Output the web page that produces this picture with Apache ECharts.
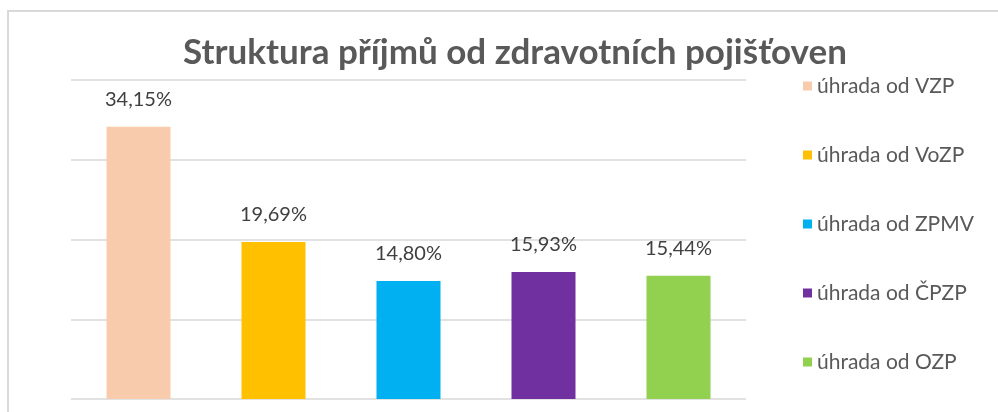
<!DOCTYPE html>
<html lang="cs">
<head>
<meta charset="UTF-8">
<title>Struktura příjmů</title>
<script src="https://cdn.jsdelivr.net/npm/echarts@6/dist/echarts.min.js"></script>
<style>
  html, body { margin: 0; padding: 0; background: #fff; }
  #main { width: 998px; height: 412px; }
</style>
</head>
<body>
<div id="main"></div>
<script>
// data
var names = ['úhrada od VZP', 'úhrada od VoZP', 'úhrada od ZPMV', 'úhrada od ČPZP', 'úhrada od OZP'];
var values = [34.15, 19.69, 14.80, 15.93, 15.44];
var colors = ['#F8CBAD', '#FFC000', '#00B0F0', '#7030A0', '#92D050'];

var chart = echarts.init(document.getElementById('main'));

var series = names.map(function (n, i) {
  return {
    name: n,
    type: 'bar',
    barWidth: 64,
    barGap: '-100%',
    itemStyle: { color: colors[i] },
    label: {
      show: true,
      position: 'top',
      distance: 17,
      fontFamily: 'Lato',
      fontSize: 20,
      color: '#404040',
      formatter: function (p) { return p.value.toFixed(2).replace('.', ',') + '%'; }
    },
    data: values.map(function (v, j) { return j === i ? v : '-'; })
  };
});

chart.setOption({
  animation: false,
  textStyle: { fontFamily: 'Lato' },
  title: {
    text: 'Struktura příjmů od zdravotních pojišťoven',
    left: 510,
    top: 30,
    textAlign: 'center',
    textStyle: { fontFamily: 'Lato', fontWeight: 'bold', fontSize: 35, color: '#595959' }
  },
  legend: {
    orient: 'vertical',
    left: 798,
    top: 70,
    itemWidth: 9,
    itemHeight: 9,
    itemGap: 47,
    icon: 'rect',
    textStyle: { fontFamily: 'Lato', fontSize: 21, lineHeight: 22, color: '#595959' },
    data: names
  },
  graphic: [{
    type: 'rect',
    shape: { x: 8, y: 11, width: 1000, height: 420 },
    style: { fill: 'none', stroke: '#d9d9d9', lineWidth: 2 },
    z: -1
  }],
  grid: { left: 71, right: 252, top: 80, bottom: 13, containLabel: false },
  xAxis: {
    type: 'category',
    data: names,
    axisLine: { show: false },
    axisTick: { show: false },
    axisLabel: { show: false }
  },
  yAxis: {
    type: 'value',
    min: 0,
    max: 40,
    interval: 10,
    axisLabel: { show: false },
    axisLine: { show: false },
    axisTick: { show: false },
    splitLine: { lineStyle: { color: '#d9d9d9', width: 1.5 } }
  },
  series: series
});
</script>
</body>
</html>
